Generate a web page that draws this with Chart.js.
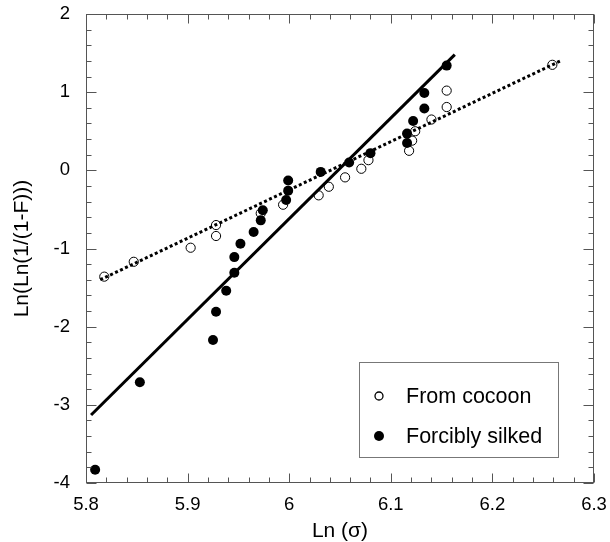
<!DOCTYPE html>
<html>
<head>
<meta charset="utf-8">
<script src="https://cdn.jsdelivr.net/npm/chart.js@4.4.1/dist/chart.umd.min.js"></script>
<style>
  html, body { margin: 0; padding: 0; background: #ffffff; }
  #wrap { width: 610px; height: 542px; position: relative; }
</style>
</head>
<body>
<div id="wrap"><canvas id="c" width="610" height="542"></canvas></div>
<script>
// ---- data ----
const cocoonX = [5.818, 5.847, 5.903, 5.928, 5.928, 5.972, 5.994, 6.029, 6.039, 6.055, 6.071, 6.078, 6.118, 6.121, 6.124, 6.140, 6.155, 6.155, 6.259];
const cocoonY = [-1.36, -1.17, -0.99, -0.70, -0.84, -0.55, -0.44, -0.32, -0.21, -0.09, 0.02, 0.13, 0.25, 0.38, 0.50, 0.65, 0.81, 1.02, 1.35];
const silkedX = [5.809, 5.853, 5.925, 5.928, 5.938, 5.946, 5.946, 5.952, 5.965, 5.972, 5.974, 5.997, 5.999, 5.999, 6.031, 6.059, 6.080, 6.116, 6.116, 6.122, 6.133, 6.133, 6.155];
const silkedY = [-3.83, -2.71, -2.17, -1.81, -1.54, -1.31, -1.11, -0.94, -0.79, -0.64, -0.51, -0.38, -0.26, -0.13, -0.02, 0.10, 0.22, 0.35, 0.47, 0.63, 0.79, 0.99, 1.34];
const cocoonFitX = [5.814, 6.267];
const cocoonFitY = [-1.40, 1.40];
const silkedFitX = [5.805, 6.163];
const silkedFitY = [-3.13, 1.48];
const xTickLabels = ['5.8', '5.9', '6', '6.1', '6.2', '6.3'];
const yTickLabels = ['-4', '-3', '-2', '-1', '0', '1', '2'];
const seriesNames = ['From cocoon', 'Forcibly silked'];
const xTitle = 'Ln (\u03C3)';
const yTitle = 'Ln(Ln(1/(1-F)))';

const toPts = (xs, ys) => xs.map((x, i) => ({ x: x, y: ys[i] }));
const FONT = "'Liberation Sans', Arial, Helvetica, sans-serif";
const AX = '#555555';

const frameTicks = {
  id: 'frameTicks',
  afterDatasetsDraw(chart) {
    const { ctx, chartArea: a, scales } = chart;
    const xs = scales.x, ys = scales.y;
    ctx.save();
    ctx.strokeStyle = AX;
    ctx.lineWidth = 1;
    const L = Math.round(a.left) + 0.5, R = Math.round(a.right) - 0.5;
    const T = Math.round(a.top) + 0.5, B = Math.round(a.bottom) - 0.5;
    ctx.strokeRect(L, T, R - L, B - T);
    ctx.beginPath();
    const xMinorStep = 0.02;
    const nx = Math.round((xs.max - xs.min) / xMinorStep);
    for (let k = 0; k <= nx; k++) {
      const v = xs.min + k * xMinorStep;
      const px = Math.round(xs.getPixelForValue(v)) + 0.5;
      const len = (k % 5 === 0) ? 9 : 5;
      ctx.moveTo(px, B); ctx.lineTo(px, B - len);
      ctx.moveTo(px, T); ctx.lineTo(px, T + len);
    }
    const yMinorStep = 0.2;
    const ny = Math.round((ys.max - ys.min) / yMinorStep);
    for (let k = 0; k <= ny; k++) {
      const v = ys.min + k * yMinorStep;
      const py = Math.round(ys.getPixelForValue(v)) + 0.5;
      const len = (k % 5 === 0) ? 10 : 5;
      ctx.moveTo(L, py); ctx.lineTo(L + len, py);
      ctx.moveTo(R, py); ctx.lineTo(R - len, py);
    }
    ctx.stroke();
    ctx.restore();
  }
};

const boxLegend = {
  id: 'boxLegend',
  afterDraw(chart) {
    const { ctx, chartArea: a } = chart;
    const bx = a.right - 235, by = a.bottom - 121, bw = 199, bh = 95;
    ctx.save();
    ctx.strokeStyle = '#777777';
    ctx.lineWidth = 1;
    ctx.strokeRect(Math.round(bx) + 0.5, Math.round(by) + 0.5, bw, bh);
    const ds = chart.data.datasets;
    const rows = [ds[0], ds[1]];
    rows.forEach((d, i) => {
      const cy = by + 34 + i * 40;
      const mx = bx + 20;
      ctx.beginPath();
      ctx.arc(mx, cy, i === 0 ? 4 : 5, 0, Math.PI * 2);
      if (i === 0) {
        ctx.lineWidth = 1.3; ctx.strokeStyle = '#000'; ctx.stroke();
      } else {
        ctx.fillStyle = '#000'; ctx.fill();
      }
      ctx.fillStyle = '#000';
      ctx.font = '21.5px ' + FONT;
      ctx.textAlign = 'left';
      ctx.textBaseline = 'middle';
      ctx.fillText(d.label, bx + 47, cy + 1);
    });
    ctx.restore();
  }
};

new Chart(document.getElementById('c'), {
  type: 'scatter',
  data: {
    datasets: [
      {
        label: seriesNames[0],
        data: toPts(cocoonX, cocoonY),
        pointRadius: 4.6,
        pointBorderWidth: 1,
        pointBorderColor: '#000',
        pointBackgroundColor: 'rgba(0,0,0,0)',
        showLine: false,
        order: 2
      },
      {
        label: seriesNames[1],
        data: toPts(silkedX, silkedY),
        pointRadius: 5,
        pointBorderWidth: 0,
        pointBackgroundColor: '#000',
        pointBorderColor: '#000',
        showLine: false,
        order: 1
      },
      {
        label: 'fit cocoon',
        data: toPts(cocoonFitX, cocoonFitY),
        showLine: true,
        borderColor: '#000',
        borderWidth: 3,
        borderDash: [3, 2.5],
        pointRadius: 0,
        fill: false,
        order: 3
      },
      {
        label: 'fit silked',
        data: toPts(silkedFitX, silkedFitY),
        showLine: true,
        borderColor: '#000',
        borderWidth: 3,
        pointRadius: 0,
        fill: false,
        order: 3
      }
    ]
  },
  options: {
    responsive: false,
    animation: false,
    devicePixelRatio: 1,
    layout: { padding: { left: 0, right: 16, top: 14, bottom: 0 } },
    plugins: { legend: { display: false }, tooltip: { enabled: false } },
    scales: {
      x: {
        type: 'linear',
        min: 5.8, max: 6.3,
        afterFit(s) { s.height = 59; s.paddingLeft = 0; s.paddingRight = 0; },
        border: { display: false },
        grid: { display: false, drawTicks: false },
        ticks: {
          stepSize: 0.1,
          padding: 11,
          color: '#000',
          font: { family: FONT, size: 18.5 },
          maxRotation: 0,
          callback: (v, i) => xTickLabels[i]
        },
        title: {
          display: true, text: xTitle, color: '#000',
          font: { family: FONT, size: 21, lineHeight: 1 },
          padding: { top: 0, bottom: 0 }
        }
      },
      y: {
        type: 'linear',
        min: -4, max: 2,
        afterFit(s) { s.width = 86; s.paddingTop = 0; s.paddingBottom = 0; },
        border: { display: false },
        grid: { display: false, drawTicks: false },
        ticks: {
          stepSize: 1,
          padding: 16,
          color: '#000',
          font: { family: FONT, size: 18.5 },
          callback: (v, i) => yTickLabels[i]
        },
        title: {
          display: true, text: yTitle, color: '#000',
          font: { family: FONT, size: 21, lineHeight: 1 },
          padding: { top: 11.5, bottom: 0 }
        }
      }
    }
  },
  plugins: [frameTicks, boxLegend]
});
</script>
</body>
</html>
